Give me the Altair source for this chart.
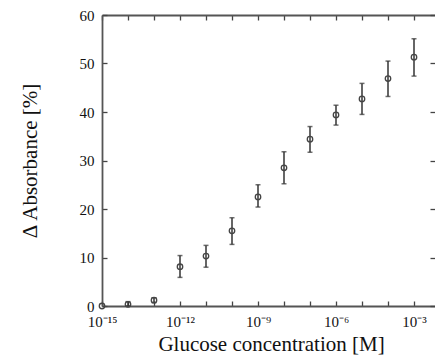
import altair as alt
import pandas as pd

# exponent of glucose concentration (10^e M)
exponents = [-15, -14, -13, -12, -11, -10, -9, -8, -7, -6, -5, -4, -3]
mean_abs = [0.0, 0.35, 1.2, 8.1, 10.3, 15.5, 22.5, 28.5, 34.4, 39.4, 42.7, 46.9, 51.3]
low_abs = [0.0, 0.0, 0.7, 5.9, 8.0, 12.7, 20.4, 25.2, 31.7, 37.3, 39.5, 43.2, 47.4]
high_abs = [0.0, 0.9, 1.7, 10.4, 12.5, 18.2, 25.0, 31.8, 37.0, 41.4, 45.9, 50.5, 55.1]

x_tick_exps = [-15, -14, -13, -12, -11, -10, -9, -8, -7, -6, -5, -4, -3]
x_label_exps = [-15, -12, -9, -6, -3]
x_label_text = ["10⁻¹⁵", "10⁻¹²", "10⁻⁹", "10⁻⁶", "10⁻³"]
y_ticks = [0, 10, 20, 30, 40, 50, 60]

df = pd.DataFrame({
    "conc": [10.0 ** e for e in exponents],
    "mean": mean_abs,
    "lo": low_abs,
    "hi": high_abs,
})

x_tick_vals = [10.0 ** e for e in x_tick_exps]
E = "round(log(datum.value)/LN10)"
label_expr = ""
for e, t in zip(x_label_exps, x_label_text):
    label_expr += f"{E} == {e} ? '{t}' : "
label_expr += "''"

FONT = "Liberation Serif"
AX_COL = "#555555"
TICK_COL = "#444444"

xscale = alt.Scale(type="log", domain=[1e-15, 1e-2], range=[0, 338], nice=False)
yscale = alt.Scale(domain=[0, 60], nice=False)

base = alt.Chart(df)

# Layer 1: error bars, with labelled bottom/left axes (inward ticks)
err = base.transform_filter("datum.hi > datum.lo").mark_errorbar(
    ticks={"size": 5}, thickness=1.5, color="#333333"
).encode(
    x=alt.X("conc:Q", scale=xscale, axis=alt.Axis(
        orient="bottom", values=x_tick_vals, labelExpr=label_expr,
        offset=-5, tickSize=5, tickWidth=1.3, tickColor=TICK_COL, domain=False,
        grid=False, labelPadding=8, labelFont=FONT, labelFontSize=15,
        labelColor="#111111", labelOverlap=False, labelFlush=False, labelBound=False,
        title="Glucose concentration [M]", titleFont=FONT, titleFontSize=21,
        titleFontWeight="normal", titleColor="#111111", titlePadding=4, titleX=169)),
    y=alt.Y("lo:Q", scale=yscale, axis=alt.Axis(
        orient="left", values=y_ticks, offset=-5, tickSize=5, tickWidth=1.3,
        tickColor=TICK_COL, domain=False, grid=False, labelPadding=8,
        labelFont=FONT, labelFontSize=15, labelColor="#111111",
        title="Δ Absorbance [%]", titleFont=FONT, titleFontSize=21,
        titleFontWeight="normal", titleColor="#111111", titlePadding=39)),
    y2="hi:Q",
)

# Layer 2: open circles, with tick-only top/right axes
pts = base.mark_point(shape="circle", filled=False, size=30, strokeWidth=1.3,
                      color="#444444", opacity=1, clip=False).encode(
    x=alt.X("conc:Q", scale=xscale, axis=alt.Axis(
        orient="top", values=x_tick_vals, offset=-5, tickSize=5, tickWidth=1.3,
        tickColor=TICK_COL, domain=False, labels=False, grid=False, title=None)),
    y=alt.Y("mean:Q", scale=yscale, axis=alt.Axis(
        orient="right", values=y_ticks, offset=-5, tickSize=5, tickWidth=1.3,
        tickColor=TICK_COL, domain=False, labels=False, grid=False, title=None)),
)

# Layer 3: frame lines bottom/left
frame1 = base.mark_point(opacity=0).encode(
    x=alt.X("conc:Q", scale=xscale, axis=alt.Axis(
        orient="bottom", domain=True, domainColor=AX_COL, domainWidth=1.8,
        ticks=False, labels=False, grid=False, title=None)),
    y=alt.Y("mean:Q", scale=yscale, axis=alt.Axis(
        orient="left", domain=True, domainColor=AX_COL, domainWidth=1.8,
        ticks=False, labels=False, grid=False, title=None)),
)

# Layer 4: frame line top
frame2 = base.mark_point(opacity=0).encode(
    x=alt.X("conc:Q", scale=xscale, axis=alt.Axis(
        orient="top", domain=True, domainColor=AX_COL, domainWidth=1.8,
        ticks=False, labels=False, grid=False, title=None)),
    y=alt.Y("mean:Q", scale=yscale, axis=None),
)

chart = alt.layer(err, pts, frame1, frame2).resolve_axis(
    x="independent", y="independent"
).properties(
    width=333, height=291,
    padding={"left": 102, "top": 15, "right": 0, "bottom": 54},
    autosize="none",
    background="white",
).configure_view(strokeWidth=0)

chart.save("out.html", embed_options={"renderer": "svg", "actions": False})
